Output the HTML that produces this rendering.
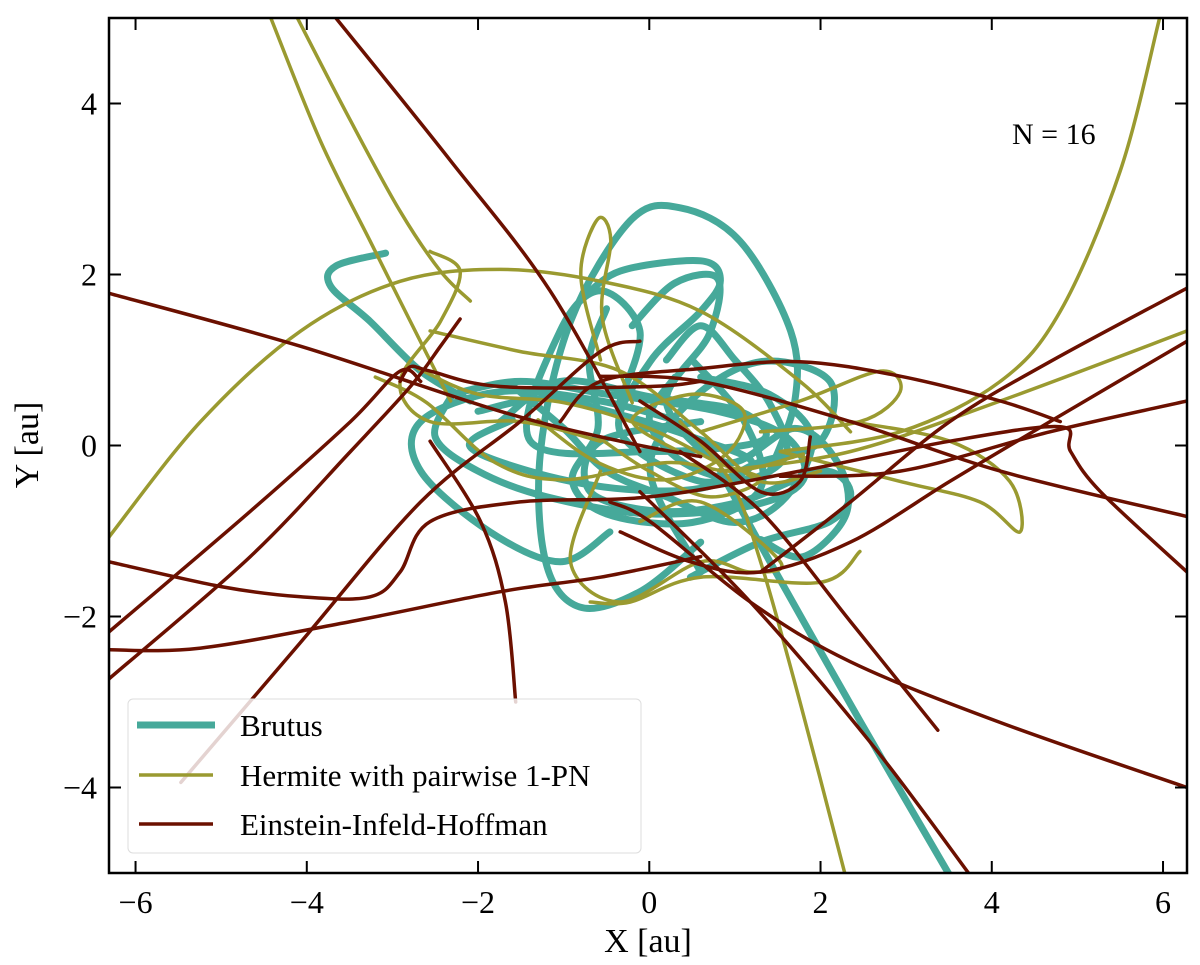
<!DOCTYPE html>
<html><head><meta charset="utf-8"><style>
html,body{margin:0;padding:0;background:#fff;}
svg{display:block;font-family:"Liberation Serif","DejaVu Serif",serif;}
</style></head><body>
<svg id="chart" width="1200" height="965" viewBox="0 0 1200 965">
<defs><clipPath id="plotclip"><rect x="109" y="18" width="1078" height="855"/></clipPath></defs>
<g id="series" clip-path="url(#plotclip)"></g>
<g id="axes"></g>
<g id="legend">
<rect x="128" y="699" width="513" height="154" rx="5" fill="#fff" fill-opacity="0.82" stroke="#ddd" stroke-width="1"/>
<line x1="137" y1="725" x2="215" y2="725" stroke="#46a99a" stroke-width="7"/>
<text x="240" y="736" font-size="31">Brutus</text>
<line x1="139" y1="775" x2="213" y2="775" stroke="#9a9a30" stroke-width="3.5"/>
<text x="240" y="786" font-size="31">Hermite with pairwise 1-PN</text>
<line x1="139" y1="824" x2="213" y2="824" stroke="#6b1000" stroke-width="3.5"/>
<text x="240" y="835" font-size="31">Einstein-Infeld-Hoffman</text>
</g>
<text x="1012" y="144" font-size="30">N = 16</text>
<text x="648" y="952" font-size="34" text-anchor="middle">X [au]</text>
<text x="38" y="445" font-size="34" text-anchor="middle" transform="rotate(-90 38 445)">Y [au]</text>
</svg>
<script>
const xTicks=[-6,-4,-2,0,2,4,6];
const yTicks=[-4,-2,0,2,4];
const brutus=[
[[0.83,-0.30],[1.41,-1.36],[2.46,-3.22],[3.51,-5.03]],
[[1.41,-0.30],[1.70,0.52],[1.65,1.34],[1.06,2.39],[0.36,2.78],[-0.22,2.63],[-0.92,1.45],[-1.27,-0.07],[-1.21,-1.36],[-0.81,-1.89],[-0.11,-1.71],[0.60,-1.13]],
[[-3.08,2.25],[-3.66,2.10],[-3.72,1.86],[-3.26,1.45],[-2.67,0.87],[-2.09,0.52]],
[[-0.46,-1.01],[-1.04,-1.36],[-1.86,-1.01],[-2.67,-0.30],[-2.67,0.28],[-1.74,0.63],[-0.57,0.52],[0.36,0.28]],
[[-0.81,1.69],[-0.34,2.04],[0.60,2.16],[0.83,1.93],[0.60,1.57],[0.01,0.98],[-0.34,0.16],[0.60,-0.42],[1.30,-0.19],[2.00,0.05],[2.11,0.75],[1.30,0.98],[0.48,0.52],[0.01,-0.30],[0.60,-1.48]],
[[0.48,-1.54],[1.30,-1.13],[2.11,-0.89],[2.35,-0.54],[2.00,-0.30],[1.06,-0.66],[0.13,-0.77],[-0.69,-0.54],[-0.57,0.05],[0.60,0.28]],
[[-1.74,0.28],[-1.04,0.75],[0.01,0.57],[1.06,0.40],[1.30,0.05],[0.01,-0.07],[-1.39,0.05],[-1.04,1.34],[-0.57,1.81],[-0.11,1.34],[-0.34,0.52]],
[[-2.3,0.6],[-1.5,0.75],[-0.5,0.6],[0.8,0.4],[1.6,0.1],[1.8,-0.4],[1.2,-0.7],[0,-0.8],[-1.2,-0.6],[-2.0,-0.3],[-2.5,0.1],[-2.3,0.6]],
[[-0.2,1.4],[0.3,1.9],[0.8,1.95],[0.7,1.3],[0.2,0.5],[0.9,-0.2],[1.7,0.2],[2.2,-0.2],[2.3,-0.8],[1.8,-1.3],[1.3,-1.1]],
[[-0.5,1.6],[-0.7,1.0],[-0.6,0.2],[-0.9,-0.4],[-0.5,-0.8],[0.5,-0.9],[1.3,-0.5],[1.1,0.3],[0.5,1.0]],
[[-2.0,0.4],[-1.2,0.55],[-0.3,0.35],[0.5,0.1],[1.2,-0.2],[0.6,-0.5],[-0.4,-0.5],[-1.4,-0.3],[-2.1,0.0],[-1.6,0.3]],
[[0.2,1.0],[0.6,1.4],[1.0,1.0],[1.4,0.5],[1.6,-0.1],[1.1,-0.4],[0.4,-0.2],[0.0,0.3],[0.3,0.8]],
[[-1.6,0.7],[-1.0,0.2],[-0.5,-0.3],[0.2,-0.6],[1.0,-0.9],[1.6,-0.6],[1.9,0.1],[1.4,0.6],[0.6,0.8]]
];
const hermite=[
[[-4.42,5],[-3.84,3.56],[-3.26,2.39],[-2.79,1.45],[-2.32,0.52]],
[[-4.11,5],[-3.49,3.8],[-2.91,2.74],[-2.44,2.04],[-2.09,1.69]],
[[-6.31,-1.07],[-5.24,0.28],[-4.07,1.34],[-2.91,1.92],[-1.74,2.06],[-0.57,1.92],[0.60,1.57],[1.76,0.75],[2.35,0.16]],
[[5.96,5],[5.50,3.21],[4.80,1.57],[4.10,0.75],[2.93,0.16],[1.53,-0.07]],
[[6.28,1.34],[4.10,0.52],[2.35,-0.07],[0.83,-0.30]],
[[0.36,0.28],[0.95,-0.42],[1.30,-1.36],[1.76,-3.0],[2.29,-5.03]],
[[-0.57,1.0],[-0.80,2.0],[-0.60,2.65],[-0.45,2.4],[-0.55,1.5],[-0.2,0.5]],
[[1.53,-0.07],[2.93,-0.42],[3.86,-0.66],[4.33,-1.01],[4.21,-0.42],[3.51,0.05],[2.35,0.28]],
[[-0.57,-0.30],[-0.92,-1.36],[-0.34,-1.83],[0.60,-1.36],[1.18,-1.48],[1.53,-1.36],[0.60,-0.66],[-0.11,-0.89]],
[[0.6,0.16],[1.76,0.52],[2.70,0.87],[2.93,0.63],[2.46,0.28],[1.3,0.16]],
[[-2.56,2.27],[-2.21,2.04],[-2.44,1.45],[-2.91,0.75],[-2.56,0.28],[-1.51,0.28],[-0.57,0.05]],
[[-2.56,1.34],[-1.51,1.1],[-0.34,0.87],[0.6,0.16],[1.3,-0.42],[2.0,-0.30]],
[[-0.69,-1.83],[-0.22,-1.83],[0.6,-1.54],[2.0,-1.6],[2.46,-1.24]],
[[-3.2,0.8],[-2.6,0.5],[-1.8,-0.2],[-1.0,-0.4],[0.2,-0.2],[1.0,-0.3],[1.8,-0.1]],
[[-2.7,0.9],[-2.0,0.6],[-1.0,0.5],[0.0,0.2],[0.8,-0.2],[1.3,-0.4],[0.7,-0.6],[0.0,-0.3],[-0.6,0.1]],
[[-1.3,0.3],[-0.6,-0.2],[0.2,-0.4],[0.9,-0.1],[1.1,0.4],[0.5,0.6],[-0.2,0.3],[0.4,-0.1]]
];
const eih=[
[[-6.31,1.78],[-4.07,1.16],[-1.74,0.40],[-0.34,0.05],[0.6,-0.13]],
[[-3.66,5],[-2.32,3.33],[-1.16,1.81],[-0.11,-0.07]],
[[-6.31,-1.36],[-5.0,-1.65],[-4.07,-1.77],[-3.26,-1.77],[-2.91,-1.48],[-2.56,-0.89],[-1.51,-0.66],[0.01,-0.60],[1.76,-0.30],[3.51,0.05],[4.80,0.22],[4.92,-0.07],[5.27,-0.54],[6.28,-1.48]],
[[-6.31,-2.73],[-4.66,-1.30],[-3.49,-0.07],[-2.79,0.69],[-2.44,1.16],[-2.21,1.48]],
[[-6.31,-2.18],[-4.66,-0.77],[-3.49,0.28],[-2.91,0.87],[-2.67,0.75]],
[[-6.31,-2.39],[-5.24,-2.37],[-3.49,-2.06],[-1.74,-1.71],[-0.57,-1.54],[0.6,-1.30]],
[[6.28,1.84],[4.68,0.98],[3.51,0.28],[2.35,-0.66],[1.30,-1.48]],
[[6.28,1.22],[4.68,0.28],[3.51,-0.42],[2.35,-1.13],[1.30,-1.48],[0.48,-1.36],[-0.34,-1.01]],
[[6.28,0.52],[4.68,0.16],[2.93,-0.30],[1.53,-0.36]],
[[6.28,-0.83],[4.10,-0.30],[2.35,0.28],[0.60,0.75],[-0.57,0.81]],
[[6.28,-4.0],[4.10,-3.24],[2.35,-2.53],[1.18,-1.83],[0.01,-0.89],[-0.46,-0.66]],
[[-0.11,-0.54],[1.18,-1.83],[2.58,-3.47],[3.75,-5.03]],
[[0.36,-0.07],[1.30,-0.77],[2.35,-2.06],[3.37,-3.33]],
[[-2.56,0.05],[-1.97,-0.89],[-1.68,-1.83],[-1.56,-3.0]],
[[-1.04,0.28],[-0.57,0.75],[0.60,0.90],[1.76,0.98],[2.93,0.81],[4.10,0.52],[4.80,0.28]],
[[-5.47,-3.94],[-4.07,-2.30],[-2.67,-0.66],[-1.51,0.28],[-0.57,1.10],[-0.11,1.22]],
[[-2.91,0.75],[-2.79,0.92],[-2.56,0.87],[-1.74,0.69],[0.01,0.69],[0.6,0.75]],
[[-0.11,0.52],[0.6,0.05],[1.3,-0.54],[1.76,-0.42],[1.88,0.10]]
];
const X0=109,X1=1187,Y0=18,Y1=873,xmin=-6.31,xmax=6.28,ymin=-5.0,ymax=5.0;
function sx(v){return X0+(v-xmin)/(xmax-xmin)*(X1-X0);}
function sy(v){return Y1-(v-ymin)/(ymax-ymin)*(Y1-Y0);}
const NS="http://www.w3.org/2000/svg";
function pathD(pts){
  const p=pts.map(q=>[sx(q[0]),sy(q[1])]);
  let d="M"+p[0][0].toFixed(1)+","+p[0][1].toFixed(1);
  for(let i=0;i<p.length-1;i++){
    const a=p[Math.max(0,i-1)],b=p[i],c=p[i+1],e=p[Math.min(p.length-1,i+2)];
    const c1=[b[0]+(c[0]-a[0])/6,b[1]+(c[1]-a[1])/6],c2=[c[0]-(e[0]-b[0])/6,c[1]-(e[1]-b[1])/6];
    d+=" C"+c1.map(v=>v.toFixed(1)).join(",")+" "+c2.map(v=>v.toFixed(1)).join(",")+" "+c[0].toFixed(1)+","+c[1].toFixed(1);
  }
  return d;
}
const sg=document.getElementById("series");
function drawSeries(list,color,w,name){
  const g=document.createElementNS(NS,"g");
  
  
  list.forEach((pts,i)=>{
    const el=document.createElementNS(NS,"path");
    el.setAttribute("d",pathD(pts));
    el.setAttribute("fill","none");el.setAttribute("stroke",color);
    el.setAttribute("stroke-width",w);el.setAttribute("stroke-linecap","round");el.setAttribute("stroke-linejoin","round");
    
    
    g.appendChild(el);
  });
  sg.appendChild(g);
}
drawSeries(brutus,"#46a99a",7,"brutus");
drawSeries(hermite,"#9a9a30",3.5,"hermite");
drawSeries(eih,"#6b1000",3.5,"eih");
const ax=document.getElementById("axes");
function mk(tag,attrs){const e=document.createElementNS(NS,tag);for(const k in attrs)e.setAttribute(k,attrs[k]);ax.appendChild(e);return e;}
const frame=mk("rect",{x:X0,y:Y0,width:X1-X0,height:Y1-Y0,fill:"none",stroke:"#000","stroke-width":2.5});


xTicks.forEach(t=>{
  const x=sx(t);
  mk("line",{x1:x,y1:Y1,x2:x,y2:Y1-12,stroke:"#000","stroke-width":2});
  mk("line",{x1:x,y1:Y0,x2:x,y2:Y0+12,stroke:"#000","stroke-width":2});
  const tx=mk("text",{x:x,y:Y1+40,"font-size":32,"text-anchor":"middle"});
  tx.textContent=(t<0?"\u2212"+(-t):String(t));
  
  
});
yTicks.forEach(t=>{
  const y=sy(t);
  mk("line",{x1:X0,y1:y,x2:X0+12,y2:y,stroke:"#000","stroke-width":2});
  mk("line",{x1:X1,y1:y,x2:X1-12,y2:y,stroke:"#000","stroke-width":2});
  const tx=mk("text",{x:X0-12,y:y+11,"font-size":32,"text-anchor":"end"});
  tx.textContent=(t<0?"\u2212"+(-t):String(t));
  
  
});
</script>
</body></html>
